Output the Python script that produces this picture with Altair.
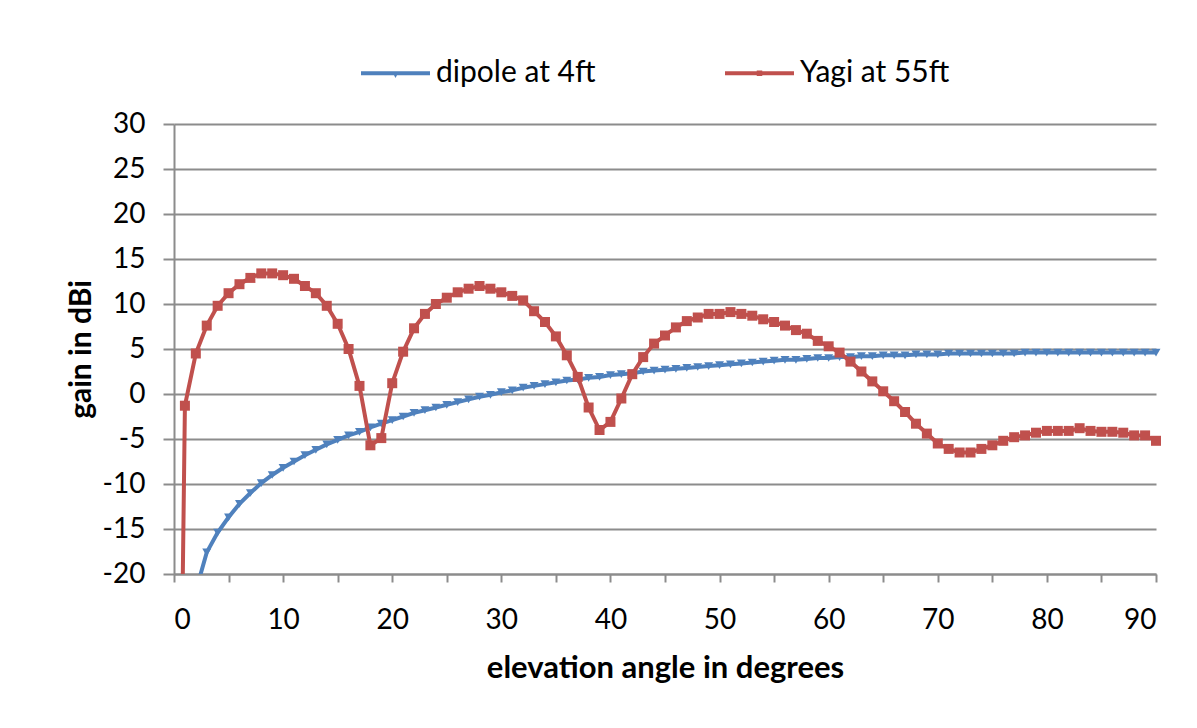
import altair as alt
import pandas as pd

SERIES = ["dipole at 4ft", "Yagi at 55ft"]
COLORS = ["#4F81BD", "#C0504D"]
GRID = "#8c8c8c"
FONT = "Lato"

dipole_angle = list(range(1, 91))
dipole_gain = [
    -27.0, -21.9, -17.6, -15.4, -13.7, -12.2, -11.0, -9.9, -9.0, -8.2,
    -7.5, -6.8, -6.2, -5.6, -5.1, -4.6, -4.2, -3.7, -3.3, -2.9,
    -2.5, -2.1, -1.8, -1.5, -1.2, -0.9, -0.6, -0.3, -0.1, 0.2,
    0.4, 0.7, 0.9, 1.1, 1.3, 1.5, 1.6, 1.8, 1.9, 2.1,
    2.2, 2.3, 2.5, 2.6, 2.7, 2.8, 2.9, 3.0, 3.1, 3.2,
    3.3, 3.4, 3.5, 3.6, 3.7, 3.8, 3.8, 3.9, 4.0, 4.0,
    4.1, 4.1, 4.2, 4.2, 4.3, 4.3, 4.3, 4.4, 4.4, 4.4,
    4.5, 4.5, 4.5, 4.5, 4.5, 4.5, 4.5, 4.6, 4.6, 4.6,
    4.6, 4.6, 4.6, 4.6, 4.6, 4.6, 4.6, 4.6, 4.6, 4.6,
]

yagi_angle = list(range(0, 91))
yagi_gain = [
    -99.0,
    -1.3, 4.5, 7.6, 9.8, 11.2, 12.2, 12.9, 13.4, 13.4, 13.2,
    12.8, 12.0, 11.2, 9.8, 7.8, 5.0, 0.9, -5.7, -4.9, 1.2,
    4.7, 7.3, 8.9, 10.0, 10.7, 11.3, 11.7, 12.0, 11.7, 11.3,
    10.9, 10.4, 9.2, 8.0, 6.4, 4.3, 1.9, -1.5, -4.0, -3.1,
    -0.5, 2.2, 4.1, 5.6, 6.5, 7.4, 8.1, 8.5, 8.9, 8.9,
    9.1, 8.9, 8.7, 8.3, 8.0, 7.6, 7.1, 6.7, 5.9, 5.3,
    4.6, 3.6, 2.5, 1.4, 0.3, -0.8, -2.0, -3.3, -4.4, -5.5,
    -6.1, -6.5, -6.5, -6.1, -5.7, -5.2, -4.8, -4.6, -4.3, -4.1,
    -4.1, -4.1, -3.8, -4.1, -4.2, -4.2, -4.3, -4.6, -4.6, -5.2,
]

x_ticks = list(range(0, 91, 5))
y_ticks = list(range(-20, 31, 5))

dip = pd.DataFrame({"angle": dipole_angle, "gain": dipole_gain, "series": SERIES[0]})
yag = pd.DataFrame({"angle": yagi_angle, "gain": yagi_gain, "series": SERIES[1]})
data = pd.concat([dip, yag], ignore_index=True)

x_enc = alt.X(
    "angle:Q",
    scale=alt.Scale(domain=[0, 90], nice=False, zero=False),
    axis=alt.Axis(
        values=x_ticks,
        labelExpr="datum.value % 10 == 0 ? '' + datum.value : ''",
        grid=False,
        domainColor=GRID, domainWidth=2,
        tickColor=GRID, tickWidth=2, tickSize=8,
        labelFont=FONT, labelFontSize=28, labelColor="#000000", labelPadding=24,
        title="elevation angle in degrees",
        titleFont=FONT, titleFontSize=31, titleFontWeight="bold", titleColor="#000000",
        titlePadding=19,
    ),
)
y_enc = alt.Y(
    "gain:Q",
    scale=alt.Scale(domain=[-20, 30], nice=False, zero=False),
    axis=alt.Axis(
        values=y_ticks,
        labelExpr="'' + datum.value",
        grid=True, gridColor=GRID, gridWidth=2,
        domainColor=GRID, domainWidth=2,
        tickColor=GRID, tickWidth=2, tickSize=11,
        labelFont=FONT, labelFontSize=28, labelColor="#000000", labelPadding=18,
        title="gain in dBi",
        titleFont=FONT, titleFontSize=30, titleFontWeight="bold", titleColor="#000000",
        titlePadding=6,
    ),
)

base = alt.Chart(data)

dip_line = base.transform_filter(alt.datum.series == SERIES[0]).mark_line(
    color=COLORS[0], strokeWidth=4, clip=True
).encode(x=x_enc, y=y_enc)
dip_pts = base.transform_filter(
    (alt.datum.series == SERIES[0]) & (alt.datum.gain >= -20)
).mark_point(
    shape="triangle-down", filled=True, size=80, color=COLORS[0], opacity=1
).encode(x=x_enc, y=y_enc)
yag_line = base.transform_filter(alt.datum.series == SERIES[1]).mark_line(
    color=COLORS[1], strokeWidth=4, clip=True
).encode(x=x_enc, y=y_enc)
yag_pts = base.transform_filter(
    (alt.datum.series == SERIES[1]) & (alt.datum.gain >= -20)
).mark_point(
    shape="square", filled=True, size=100, color=COLORS[1], opacity=1
).encode(x=x_enc, y=y_enc)

# legend symbols: a line with the series marker in the middle
dip_sym = ("M-1,-0.055 L1,-0.055 L1,0.055 L-1,0.055 Z "
           "M-0.1,-0.05 L0.1,-0.05 L0,0.14 Z")
yag_sym = ("M-1,-0.055 L1,-0.055 L1,0.055 L-1,0.055 Z "
           "M-0.08,-0.08 L0.08,-0.08 L0.08,0.08 L-0.08,0.08 Z")

leg = alt.Legend(
    title=None, orient="none", direction="horizontal",
    legendX=187, legendY=-85.5, padding=0,
    symbolSize=4761, symbolStrokeWidth=0, symbolOpacity=1,
    labelFont=FONT, labelFontSize=30, labelColor="#000000", labelOffset=6,
    columnPadding=129, labelLimit=400,
)
legend_layer = base.transform_filter("false").mark_point(filled=True, opacity=1).encode(
    x=x_enc, y=y_enc,
    color=alt.Color("series:N", scale=alt.Scale(domain=SERIES, range=COLORS), legend=leg),
    shape=alt.Shape("series:N", scale=alt.Scale(domain=SERIES, range=[dip_sym, yag_sym]), legend=leg),
)

chart = alt.layer(dip_line, dip_pts, yag_line, yag_pts, legend_layer).properties(
    width=982, height=450,
    autosize=alt.AutoSizeParams(type="none"),
    padding={"left": 166, "top": 116, "right": 25, "bottom": 120},
    background="#ffffff",
).configure_view(strokeWidth=0)

chart.save("out.html", embed_options={"renderer": "svg", "actions": False})
